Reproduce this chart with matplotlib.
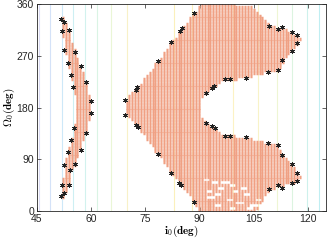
import numpy as np
import matplotlib
matplotlib.use("Agg")
import matplotlib.pyplot as plt

# ── data ────────────────────────────────────────────────────
# faint contour lines in the background (i0 position, colour)
contour_i = [45.6, 48.7, 51.9, 55.0, 58.2, 61.6, 65.6, 69.8, 82.8, 88.0,
             99.2, 106.2, 111.4, 115.5, 119.6, 123.0]
contour_col = ["#dcdcf6", "#d4e2f8", "#cde8f8", "#cdeff3", "#d2f2ee", "#daf4e4",
               "#eaf6d6", "#f8f1c8", "#fbf0bc", "#fbf0bc", "#fcf2c4", "#f8f3c8",
               "#eef6d4", "#dcf4e0", "#cdf1ec", "#bfeef2"]

# narrow left band: Omega row, lower i0, upper i0
band_om = [25, 30, 40, 50, 60, 70, 80, 90, 100, 110, 120, 130, 140, 150, 160, 170, 180,
           190, 200, 210, 220, 230, 240, 250, 260, 270, 280, 290, 300, 310, 320, 330, 335]
band_lo = [51.6, 51.6, 51.8, 52.0, 52.2, 52.4, 52.6, 52.9, 53.3, 53.7, 54.1, 54.6, 55.0,
           55.3, 55.5, 55.6, 55.6, 55.6, 55.4, 55.2, 54.9, 54.5, 54.1, 53.7, 53.4, 53.0,
           52.6, 52.4, 52.2, 52.0, 51.8, 51.6, 51.6]
band_hi = [52.5, 52.5, 53.5, 54.0, 54.0, 54.2, 55.5, 56.0, 56.6, 57.2, 57.6, 58.2, 58.6,
           59.0, 59.5, 60.0, 60.0, 60.0, 59.5, 59.0, 58.6, 58.3, 57.8, 57.2, 56.6, 56.0,
           55.5, 54.8, 54.3, 54.0, 53.5, 52.8, 52.5]

# C-shaped region: left edge and right edge as function of Omega
cl_om = [0, 16, 45, 66, 99, 146, 167, 180, 193, 215, 261, 294, 314, 344, 360]
cl_i = [89.6, 88.5, 85.0, 82.1, 78.4, 72.9, 69.6, 69.2, 69.6, 72.6, 78.4, 82.1, 84.6, 88.5, 89.9]
cr_om = [0, 10, 20, 30, 38, 42, 45, 48, 53, 60, 67, 75, 81, 90, 97, 108, 115, 118, 122,
         128, 131, 135, 145, 148, 154, 165, 180, 195, 206, 213, 217, 225, 229, 232, 237,
         242, 245, 252, 263, 278, 293, 300, 306, 311, 318, 322, 334, 350, 357, 360]
cr_i = [105.0, 107.0, 107.5, 108.5, 109.5, 111.7, 113.0, 115.5, 117.3, 118.3, 117.3, 116.3,
        115.5, 114.0, 113.0, 112.3, 111.7, 109.0, 106.0, 103.0, 98.5, 96.0, 94.3, 93.4,
        91.7, 90.5, 90.0, 90.5, 91.7, 93.4, 94.3, 96.0, 99.0, 103.0, 106.0, 109.0, 111.7,
        112.5, 113.2, 115.7, 117.4, 118.3, 117.4, 115.7, 113.0, 109.5, 107.6, 105.5, 104.0,
        100.0]

# white holes inside the lower arm
hole_i = [92, 94, 97, 99, 96, 100, 103, 93, 98, 101, 105, 95, 99, 104, 107, 106, 102, 92.5, 95]
hole_om = [55, 50, 52, 45, 38, 35, 30, 25, 20, 15, 12, 10, 5, 3, 8, 20, 40, 35, 30]

# black asterisks on the boundaries
star_i = [51.6, 52.5, 52.0, 53.9, 52.6, 55.5, 53.5, 57.2, 54.3, 55.1, 58.5, 60.0, 60.0,
          55.2, 58.5, 54.3, 53.5, 57.1, 52.6, 55.5, 54.1, 52.0, 53.9, 52.5, 51.6,
          88.5, 84.3, 84.9, 82.1, 78.4, 72.3, 72.9, 69.4, 69.4, 72.3, 72.6, 78.4, 82.1,
          84.6, 85.2, 88.5,
          91.7, 93.4, 94.3, 91.7, 93.4, 94.1,
          97.1, 98.5, 102.9, 109.0, 111.6, 112.9, 115.5, 117.1, 117.1, 115.5, 111.6, 112.9, 109.3,
          97.1, 98.5, 102.9, 109.0, 111.6, 112.9, 115.5, 117.1, 117.1, 115.5, 112.9, 111.6, 109.3]
star_om = [334, 329, 314, 315, 280, 277, 258, 253, 236, 215, 225, 191, 170,
           145, 135, 124, 103, 107, 80, 82, 72, 46, 45, 31, 26,
           16, 49, 45, 66, 99, 150, 146, 167, 193, 210, 215, 261, 294,
           314, 318, 344,
           154, 148, 145, 206, 214, 217,
           130, 130, 129, 118, 115, 97, 81, 67, 53, 48, 45, 40, 38,
           229, 229, 232, 242, 245, 263, 278, 293, 306, 311, 320, 316, 322]

# ── grid of feasible cells ──────────────────────────────────
i_grid = np.arange(45.0, 125.0, 0.8)
om_grid = np.arange(0.0, 361.0, 5.0)
I, OM = np.meshgrid(i_grid, om_grid)
I, OM = I.ravel(), OM.ravel()

band = ((OM >= band_om[0]) & (OM <= band_om[-1]) &
        (I >= np.interp(OM, band_om, band_lo)) & (I <= np.interp(OM, band_om, band_hi)))
c_reg = (I >= np.interp(OM, cl_om, cl_i)) & (I <= np.interp(OM, cr_om, cr_i))
for hi, ho in zip(hole_i, hole_om):
    c_reg &= ~((np.abs(I - hi) < 0.9) & (np.abs(OM - ho) < 3))
mask = band | c_reg

plt.rcParams["mathtext.fontset"] = "cm"
plt.rcParams["font.family"] = ["Liberation Sans", "DejaVu Sans"]

fig = plt.figure(figsize=(3.27, 2.42), dpi=100)
ax = fig.add_axes([0.113, 0.128, 0.884, 0.855])

for x, c in zip(contour_i, contour_col):
    ax.axvline(x, color=c, lw=0.8, zorder=0)

# thin upright cells leave the light stripes seen between columns
rect = [(-0.3, -0.5), (0.3, -0.5), (0.3, 0.5), (-0.3, 0.5)]
cells = ax.scatter(I[mask], OM[mask], marker=rect, s=2.5 ** 2, color="#f0a083",
                   linewidths=0, zorder=2)
cells.set_snap(False)
ax.scatter(star_i, star_om, marker=(6, 2, 0), s=9, color="#222222",
           linewidths=0.6, zorder=3)

ax.set_xlim(45, 125)
ax.set_ylim(0, 360)
ax.set_xticks([45, 60, 75, 90, 105, 120])
ax.set_yticks([0, 90, 180, 270, 360])
ax.tick_params(direction="in", top=True, right=True, labelsize=7.5, length=3,
               width=0.5, pad=2, colors="#262626")
for sp in ax.spines.values():
    sp.set_linewidth(0.6)
    sp.set_color("#262626")

ax.set_xlabel(r"$\mathbf{i_0(deg)}$", fontsize=8, labelpad=0)
ax.set_ylabel(r"$\mathbf{\Omega_0(deg)}$", fontsize=8, labelpad=0)

fig.savefig("out.png", dpi=100)
